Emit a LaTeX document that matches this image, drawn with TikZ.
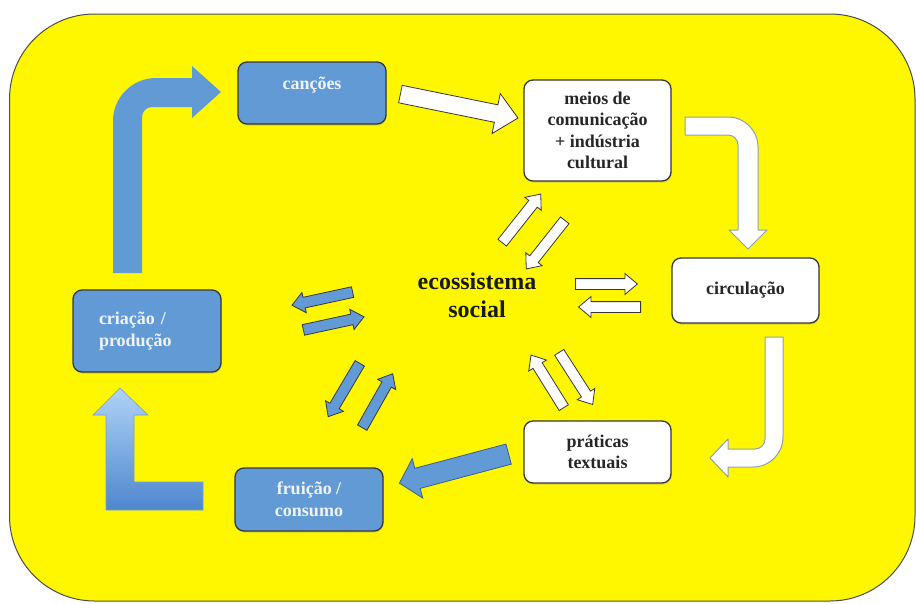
\documentclass[tikz,border=0pt]{standalone}
\usepackage{fontspec}
\setmainfont{Liberation Serif}
\usepackage{tikz}
\usetikzlibrary{shapes.arrows, shadows}

\definecolor{fundo}{RGB}{255,247,0}
\definecolor{azul}{RGB}{98,154,214}
\definecolor{azulclaro}{RGB}{176,211,247}
\definecolor{azulesc}{RGB}{78,134,206}
\definecolor{contorno}{RGB}{55,55,55}
\definecolor{cinzaseta}{RGB}{140,160,178}
\definecolor{textoazul}{RGB}{240,243,250}

\tikzset{
  caixa/.style={rounded corners=9pt, draw=contorno, line width=1.3pt, inner sep=0pt,
    drop shadow={opacity=0.3, shadow xshift=0.6pt, shadow yshift=-1.6pt},
    font=\fontsize{18}{21.5}\selectfont\bfseries, align=center},
  caixaazul/.style={caixa, fill=azul, text=textoazul},
  caixabranca/.style={caixa, fill=white, text=black!85},
  seta/.style={single arrow, draw=contorno, line width=0.8pt, inner xsep=0pt,
    sloped, allow upside down, pos=0, anchor=tail},
  setinha/.style={seta, minimum height=62pt, inner ysep=5pt,
    single arrow head extend=5pt, single arrow tip angle=80},
  curva/.style={fill=white, draw=cinzaseta, line width=1pt, line join=round}
}

\begin{document}
\begin{tikzpicture}[x=1pt, y=-1pt]
  \useasboundingbox (0,0) rectangle (916,603);
  \fill[white] (0,0) rectangle (916,603);
  \draw[fill=fundo, draw=black!70, line width=1pt, rounded corners=85pt] (9.5,14) rectangle (915,601);

  % big arrows
  \fill[azul] (113,273) -- (113,121) .. controls (113,97.3) and (132.3,78) .. (156,78)
    -- (192,78) -- (192,66) -- (221,92) -- (192,118) -- (192,107) -- (152,107)
    .. controls (146.5,107) and (142,111.5) .. (142,117) -- (142,273) -- cycle;
  \draw[top color=azulclaro, bottom color=azulesc, draw=azulesc!80, line width=0.6pt]
    (106,510) -- (106,415) -- (93,415) -- (120,388) -- (148,415) -- (134,415)
    -- (134,482) -- (203,482) -- (203,510) -- cycle;
  \draw[curva] (685,117) -- (728,117) .. controls (744.6,117) and (758,130.4) .. (758,147)
    -- (758,230) -- (767,230) -- (748,249) -- (729,230) -- (738,230) -- (738,145)
    .. controls (738,139.5) and (733.5,135) .. (728,135) -- (685,135) -- cycle;
  \draw[curva] (765,337) -- (783,337) -- (783,437) .. controls (783,453.6) and (769.6,467) .. (753,467)
    -- (728,467) -- (728,477) -- (710,458) -- (728,439) -- (728,449) -- (755,449)
    .. controls (760.5,449) and (765,444.5) .. (765,439) -- cycle;

  % boxes
  \node[caixaazul, minimum width=148pt, minimum height=62pt,
    label={[font=\fontsize{18}{21.5}\selectfont\bfseries, text=textoazul, yshift=8pt]center:canções}]
    (cancoes) at (312,93) {};
  \node[caixabranca, minimum width=147pt, minimum height=101pt] (meios) at (597.5,130.5)
    {meios de\\comunicação\\+ indústria\\cultural};
  \node[caixabranca, minimum width=147pt, minimum height=65pt] (circ) at (745.5,290.5) {circulação};
  \node[caixabranca, minimum width=147pt, minimum height=62pt] (prat) at (597.5,452) {práticas\\textuais};
  \node[caixaazul, minimum width=148pt, minimum height=63pt] (fruicao) at (309,499.5) {fruição /\\consumo};
  \node[caixaazul, text width=96pt, align=left, inner xsep=26pt, minimum height=82pt]
    (criacao) at (147,331) {criação /\\produção};

  \node[font=\fontsize{24}{28}\selectfont\bfseries, align=center, text=black!90] (eco) at (477,295)
    {ecossistema\\social};

  % straight arrows
  \path (400,94) -- node[seta, fill=white, minimum height=120pt, inner ysep=8.5pt,
    single arrow head extend=11.5pt, single arrow tip angle=85] (sa1) {} (518,118);
  \path (509,454) -- node[seta, fill=azul, draw=azulesc!70!black, minimum height=113pt, inner ysep=10pt,
    single arrow head extend=10pt, single arrow tip angle=95] (sa2) {} (400,483);

  % small arrows round the centre
  \path (502,243) -- node[setinha, fill=white] (m1) {} (540,195);
  \path (565,220) -- node[setinha, fill=white] (m2) {} (527,268);
  \path (575,284) -- node[setinha, fill=white] (c1) {} (638,284);
  \path (641,307) -- node[setinha, fill=white] (c2) {} (579,307);
  \path (564,408) -- node[setinha, fill=white] (p1) {} (531,355);
  \path (559,352) -- node[setinha, fill=white] (p2) {} (593,405);
  \path (353,292) -- node[setinha, fill=azul] (r1) {} (293,305);
  \path (303,330) -- node[setinha, fill=azul] (r2) {} (363,317);
  \path (360,363) -- node[setinha, fill=azul] (f1) {} (328,417);
  \path (362,428) -- node[setinha, fill=azul] (f2) {} (392,375);
\end{tikzpicture}
\end{document}
